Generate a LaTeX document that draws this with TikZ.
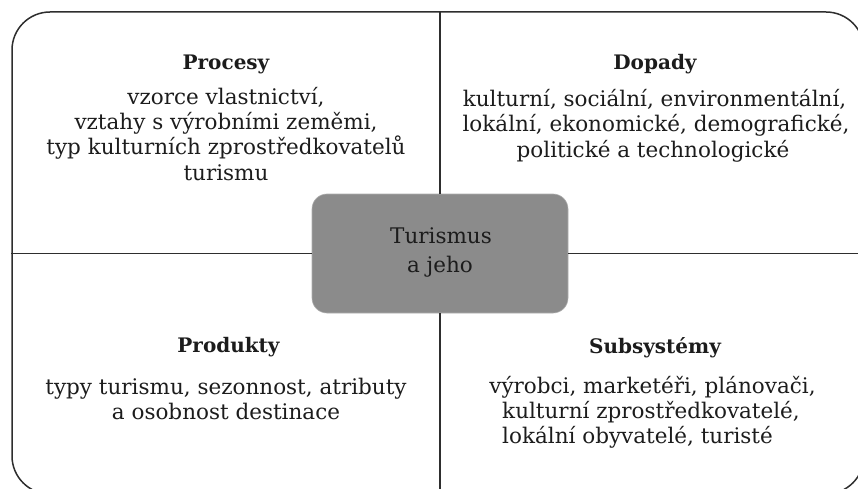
\documentclass[tikz,border=0pt]{standalone}
\usepackage{fontspec}
\setmainfont{DejaVu Serif}
\definecolor{ink}{HTML}{1C1C1C}
\definecolor{rule}{HTML}{2E2E2E}
\definecolor{corefill}{HTML}{8B8B8B}
\tikzset{
  frame/.style={draw=rule, line width=1.5pt, rounded corners=38pt, minimum width=852pt, minimum height=482pt, inner sep=0pt},
  divider/.style={draw=rule, line width=1.5pt},
  corebox/.style={fill=corefill, draw=corefill!70!white, line width=0.6pt, rounded corners=15pt, minimum width=256pt, minimum height=119pt, inner sep=0pt},
  title/.style={text=ink, font=\fontsize{20}{24}\selectfont\bfseries, inner sep=0pt, anchor=base},
  body/.style={text=ink, font=\fontsize{21.5}{25}\selectfont, inner sep=0pt, anchor=base},
}
\begin{document}
\begin{tikzpicture}[x=1pt,y=-1pt]
\useasboundingbox (0,0) rectangle (858,489);
\clip (0,0) rectangle (858,489);
\node[frame] (frame) at (438,253) {};
\node[corebox] (core) at (440,253.5) {};
\node[body] (core1) at (441,243) {Turismus};
\node[body] (core2) at (440,272) {a jeho};
\draw[divider] (core.north) -- (core.north |- frame.north);
\draw[divider] (core.south) -- (core.south |- frame.south);
\draw[divider] (core.west) -- (core.west -| frame.west);
\draw[divider] (core.east) -- (core.east -| frame.east);

\node[title] (t1) at (226,70) {Procesy};
\node[body] (b1a) at (226,105) {vzorce vlastnictví,};
\node[body] (b1b) at (226,130) {vztahy s výrobními zeměmi,};
\node[body] (b1c) at (226,155) {typ kulturních zprostředkovatelů};
\node[body] (b1d) at (226,180) {turismu};

\node[title] (t2) at (655,70) {Dopady};
\node[body] (b2a) at (654.5,106.5) {kulturní, sociální, environmentální,};
\node[body] (b2b) at (656,132) {lokální, ekonomické, demografické,};
\node[body] (b2c) at (653,157.5) {politické a technologické};

\node[title] (t3) at (228.5,352) {Produkty};
\node[body] (b3a) at (226,394) {typy turismu, sezonnost, atributy};
\node[body] (b3b) at (226,419) {a osobnost destinace};

\node[title] (t4) at (655,353) {Subsystémy};
\node[body] (b4a) at (652.5,393) {výrobci, marketéři, plánovači,};
\node[body] (b4b) at (651,418) {kulturní zprostředkovatelé,};
\node[body, anchor=base west] (b4c) at (b4b.base west |- 0,443) {lokální obyvatelé, turisté};
\end{tikzpicture}
\end{document}
